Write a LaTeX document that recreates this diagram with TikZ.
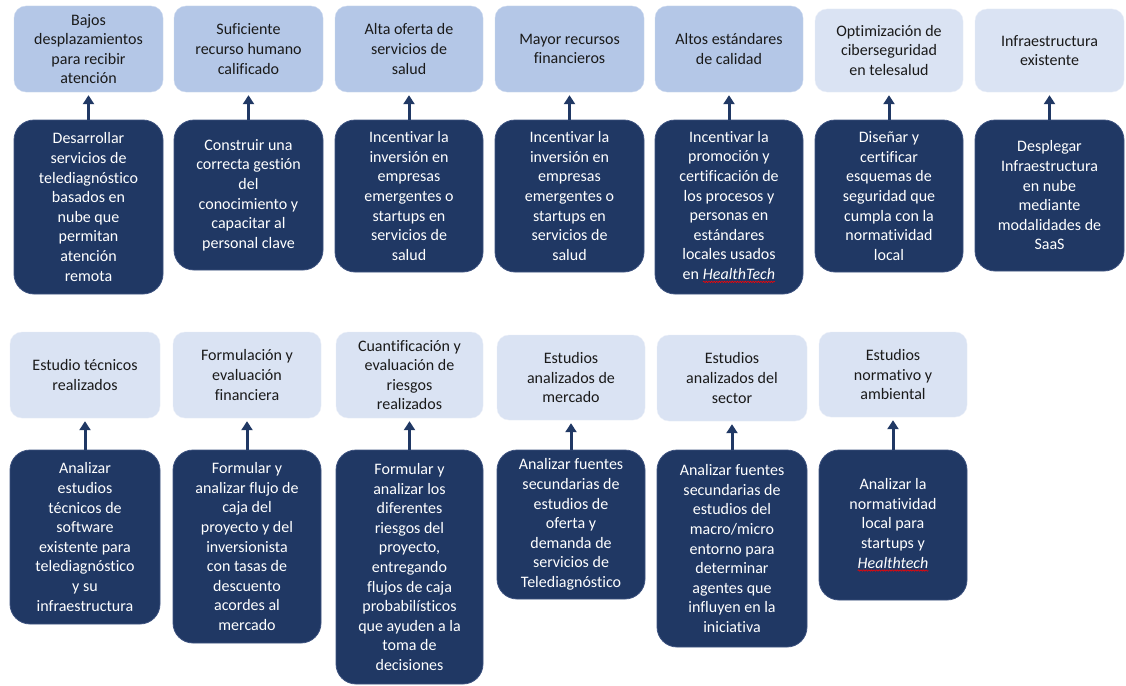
\documentclass[tikz,border=0pt]{standalone}
\usepackage{fontspec}
\setmainfont{Carlito}[Ligatures={NoCommon}]
\usetikzlibrary{arrows.meta,decorations.pathmorphing}
\definecolor{navy}{HTML}{203864}
\definecolor{navyedge}{HTML}{3E5380}
\definecolor{midblue}{HTML}{B4C7E7}
\definecolor{paleblue}{HTML}{DAE3F3}
\definecolor{inktext}{HTML}{1A1A1A}
% italic word with a red wavy underline (spell-check mark)
\newcommand\wavyword[1]{\tikz[baseline=(w.base),x=1cm,y=1cm]{%
  \node[inner sep=0pt,outer sep=0pt,draw=none,fill=none,rectangle,
        minimum width=0pt,minimum height=0pt,rounded corners=0pt] (w) {\textit{#1}};
  \draw[red,line width=0.6pt,rounded corners=0pt,
        decorate,decoration={snake,amplitude=0.7pt,segment length=2.6pt}]
    ([yshift=-2.5pt]w.base west) -- ([yshift=-2.5pt]w.base east);}}
\tikzset{
  basebox/.style={rectangle, inner sep=0pt, align=center,
    font=\fontsize{16}{19.6}\selectfont},
  goalbox/.style={basebox, fill=midblue, draw=midblue!70!white, rounded corners=12pt, text=inktext},
  goalpale/.style={basebox, fill=paleblue, draw=paleblue!60!white, rounded corners=12pt, text=inktext},
  actbox/.style={basebox, fill=navy, draw=navyedge, line width=0.8pt, rounded corners=20pt, text=white},
  uparrow/.style={draw=navy, line width=3pt, shorten >=3pt,
    -{Triangle[width=11pt,length=9pt]}},
}
% \placebox{name}{style}{x1}{y1}{x2}{y2}{text}
\newcommand\placebox[7]{%
  \node[#2, minimum width={(#5-#3)*1pt}, minimum height={(#6-#4)*1pt}]
    (#1) at ({(#3+#5)/2},{(#4+#6)/2}) {#7};}
\begin{document}
\begin{tikzpicture}[x=1pt,y=-1pt]
\useasboundingbox (0,0) rectangle (1126,685);
\fill[white] (0,0) rectangle (1126,685);

% ---- upper row: results
\placebox{g1}{goalbox}{14}{6}{163}{92}{Bajos\\desplazamientos\\para recibir\\atención}
\placebox{g2}{goalbox}{174}{6}{323}{92}{Suficiente\\recurso humano\\calificado}
\placebox{g3}{goalbox}{335}{6}{483}{92}{Alta oferta de\\servicios de\\salud}
\placebox{g4}{goalbox}{495}{6}{644}{92}{Mayor recursos\\financieros}
\placebox{g5}{goalbox}{655}{6}{803}{92}{Altos estándares\\de calidad}
\placebox{g6}{goalpale}{815}{9}{963}{92}{Optimización de\\ciberseguridad\\en telesalud}
\placebox{g7}{goalpale}{975}{9}{1124}{92}{Infraestructura\\existente}

% ---- upper row: actions
\placebox{a1}{actbox}{14}{120}{163}{294}{Desarrollar\\servicios de\\telediagnóstico\\basados en\\nube que\\permitan\\atención\\remota}
\placebox{a2}{actbox}{174}{120}{323}{270}{Construir una\\correcta gestión\\del\\conocimiento y\\capacitar al\\personal clave}
\placebox{a3}{actbox}{335}{120}{483}{272}{Incentivar la\\inversión en\\empresas\\emergentes o\\startups en\\servicios de\\salud}
\placebox{a4}{actbox}{495}{120}{644}{272}{Incentivar la\\inversión en\\empresas\\emergentes o\\startups en\\servicios de\\salud}
\placebox{a5}{actbox}{655}{120}{803}{294}{Incentivar la\\promoción y\\certificación de\\los procesos y\\personas en\\estándares\\locales usados\\en \wavyword{HealthTech}}
\placebox{a6}{actbox}{815}{120}{963}{272}{Diseñar y\\certificar\\esquemas de\\seguridad que\\cumpla con la\\normatividad\\local}
\placebox{a7}{actbox}{975}{120}{1124}{271}{Desplegar\\Infraestructura\\en nube\\mediante\\modalidades de\\SaaS}

% ---- lower row: studies
\placebox{s1}{goalpale}{10}{332}{160}{418}{Estudio técnicos\\realizados}
\placebox{s2}{goalpale}{173}{332}{321}{418}{Formulación y\\evaluación\\financiera}
\placebox{s3}{goalpale}{336}{332}{483}{418}{Cuantificación y\\evaluación de\\riesgos\\realizados}
\placebox{s4}{goalpale}{497}{335}{645}{420}{Estudios\\analizados de\\mercado}
\placebox{s5}{goalpale}{657}{335}{807}{421}{Estudios\\analizados del\\sector}
\placebox{s6}{goalpale}{819}{332}{967}{417}{Estudios\\normativo y\\ambiental}

% ---- lower row: actions
\placebox{b1}{actbox}{10}{450}{160}{624}{Analizar\\estudios\\técnicos de\\software\\existente para\\telediagnóstico\\y su\\infraestructura}
\placebox{b2}{actbox}{173}{450}{321}{643}{Formular y\\analizar flujo de\\caja del\\proyecto y del\\inversionista\\con tasas de\\descuento\\acordes al\\mercado}
\placebox{b3}{actbox}{336}{450}{483}{684}{Formular y\\analizar los\\diferentes\\riesgos del\\proyecto,\\entregando\\flujos de caja\\probabilísticos\\que ayuden a la\\toma de\\decisiones}
\placebox{b4}{actbox}{497}{450}{645}{599}{Analizar fuentes\\secundarias de\\estudios de\\oferta y\\demanda de\\servicios de\\Telediagnóstico}
\placebox{b5}{actbox}{657}{450}{807}{647}{Analizar fuentes\\secundarias de\\estudios del\\macro/micro\\entorno para\\determinar\\agentes que\\influyen en la\\iniciativa}
\placebox{b6}{actbox}{819}{450}{967}{600}{Analizar la\\normatividad\\local para\\startups y\\\wavyword{Healthtech}}

% ---- connectors
\foreach \n in {1,...,7} \draw[uparrow] (a\n.north) -- (g\n.south);
\foreach \n in {1,...,6} \draw[uparrow] (b\n.north) -- (s\n.south);
\end{tikzpicture}
\end{document}
